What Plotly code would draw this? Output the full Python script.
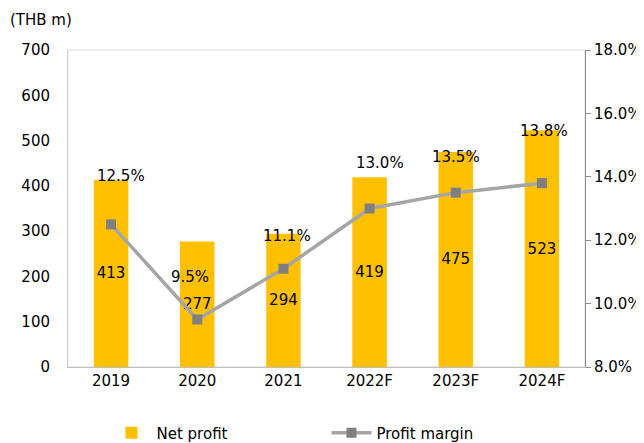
import plotly.graph_objects as go

years = ["2019", "2020", "2021", "2022F", "2023F", "2024F"]
net_profit = [413, 277, 294, 419, 475, 523]
profit_margin = [12.5, 9.5, 11.1, 13.0, 13.5, 13.8]
margin_labels = ["12.5%", "9.5%", "11.1%", "13.0%", "13.5%", "13.8%"]

idx = list(range(len(years)))
FONT = "DejaVu Sans"
FS = 15
fig = go.Figure()
fig.add_trace(go.Bar(
    x=idx, y=net_profit, name="Net profit",
    marker=dict(color="#FFC000", line=dict(width=0)),
    width=0.4,
    text=[str(v) for v in net_profit], textposition="inside",
    insidetextanchor="middle", textangle=0, constraintext="none",
    textfont=dict(family=FONT, size=FS, color="#000000"),
))
fig.add_trace(go.Scatter(
    x=idx, y=profit_margin, name="Profit margin", yaxis="y2",
    mode="lines+markers",
    line=dict(color="#A5A5A5", width=3.5),
    marker=dict(symbol="square", size=10, color="#7F7F7F"),
))

yshifts = [48, 42, 33, 46, 36, 52]
xshifts = [10, -7, 4, 10, 0, 2]
for i, y, t, ys, xs in zip(idx, profit_margin, margin_labels, yshifts, xshifts):
    fig.add_annotation(x=i, y=y, xref="x", yref="y2", text=t, showarrow=False,
                       yshift=ys, xshift=xs,
                       font=dict(family=FONT, size=FS, color="#000000"))

fig.add_annotation(xref="paper", yref="paper", x=-0.116, y=1.095, xanchor="left",
                   yanchor="middle", text="(THB m)", showarrow=False,
                   font=dict(family=FONT, size=FS, color="#000000"))

fig.add_shape(type="rect", xref="paper", yref="paper", x0=0, x1=1, y0=0, y1=1,
              line=dict(color="#D9D9D9", width=1), layer="below")

fig.update_layout(
    template="none",
    width=636, height=435,
    margin=dict(l=60, r=59, t=42, b=76, autoexpand=False),
    plot_bgcolor="white", paper_bgcolor="white",
    font=dict(family=FONT, size=FS, color="#000000"),
    xaxis=dict(range=[-0.5, len(years) - 0.5], tickvals=idx, ticktext=years,
               automargin=False,
               showgrid=False, zeroline=False, showline=True, linecolor="#BFBFBF",
               linewidth=1, ticks="", tickfont=dict(family=FONT, size=FS)),
    yaxis=dict(range=[0, 700], dtick=100, showgrid=False, zeroline=False,
               automargin=False, ticks="",
               showline=True, linecolor="#D9D9D9",
               tickfont=dict(family=FONT, size=FS), ticklabelstandoff=14),
    yaxis2=dict(range=[8, 18], dtick=2, overlaying="y", side="right",
                automargin=False,
                showgrid=False, zeroline=False, showline=True,
                linecolor="#8C8C8C", ticks="outside", ticklen=5,
                tickcolor="#8C8C8C", tickformat=".1f", ticksuffix="%",
                tickfont=dict(family=FONT, size=FS)),
    legend=dict(orientation="h", x=0.5, xanchor="center", y=-0.208,
                yanchor="middle", font=dict(family=FONT, size=FS),
                itemwidth=40, traceorder="normal",
                entrywidth=165, entrywidthmode="pixels"),
    showlegend=True,
)

fig.write_html("out.html")
